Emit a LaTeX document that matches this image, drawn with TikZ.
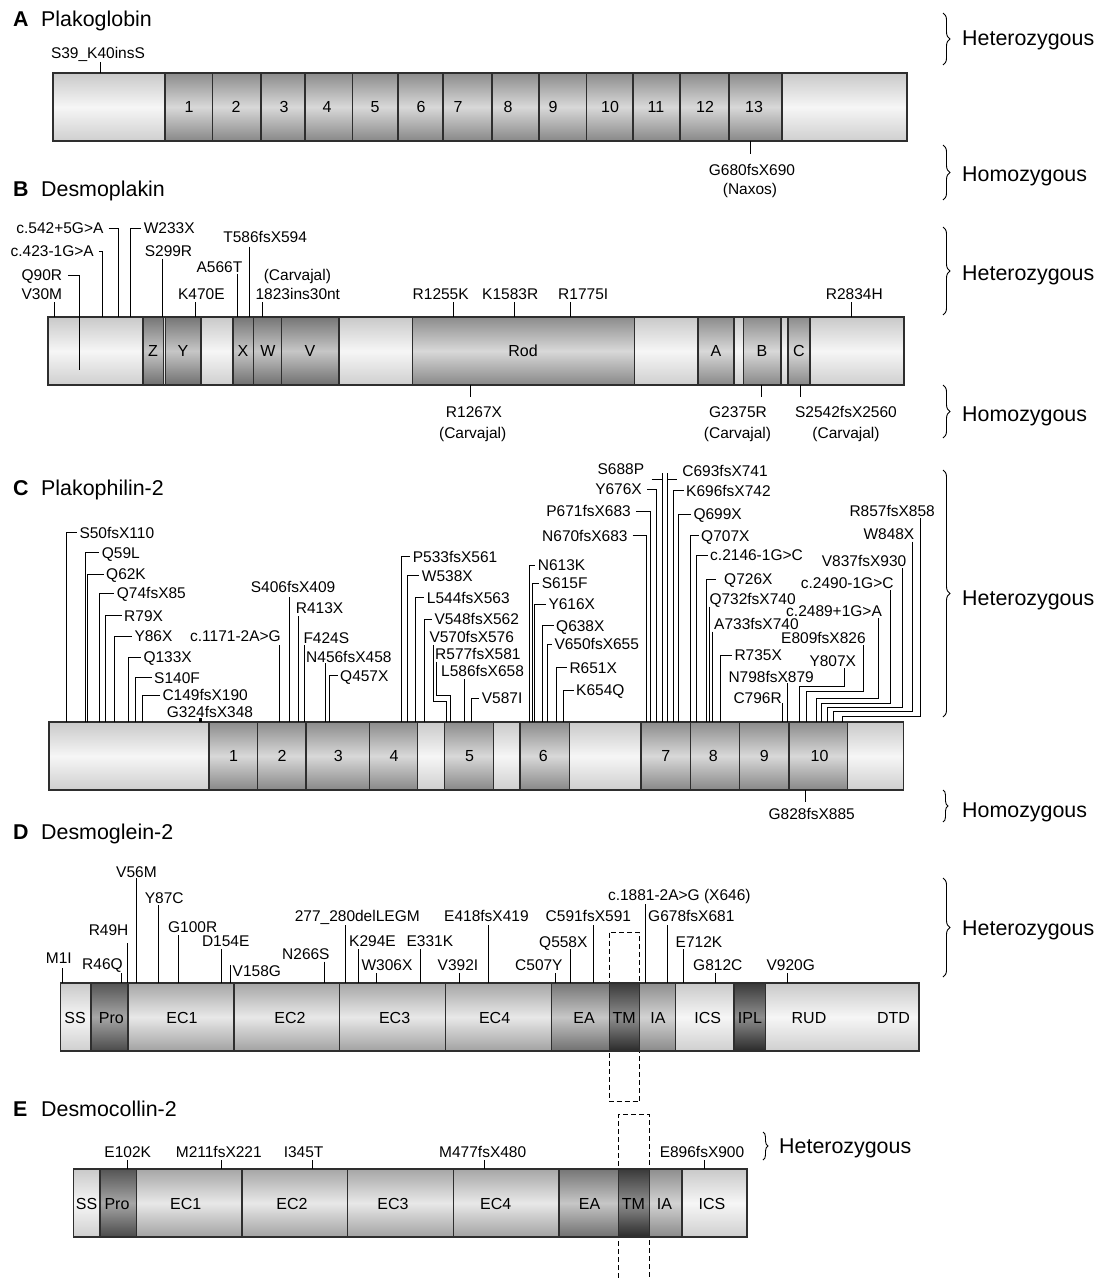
\documentclass[tikz,border=0pt]{standalone}
\usepackage{fontspec}
\setmainfont{Liberation Sans}
\usetikzlibrary{decorations.pathreplacing}
\definecolor{barc}{HTML}{2E2E2E}
\definecolor{Lt}{HTML}{C9C9C9}\definecolor{Lm}{HTML}{F6F6F6}\definecolor{Lb}{HTML}{CFCFCF}
\definecolor{Mt}{HTML}{8C8C8C}\definecolor{Mm}{HTML}{D8D8D8}\definecolor{Mb}{HTML}{888888}
\definecolor{Et}{HTML}{A6A6A6}\definecolor{Em}{HTML}{E8E8E8}\definecolor{Eb}{HTML}{A2A2A2}
\definecolor{At}{HTML}{767676}\definecolor{Am}{HTML}{C6C6C6}\definecolor{Ab}{HTML}{707070}
\definecolor{It}{HTML}{8E8E8E}\definecolor{Im}{HTML}{D2D2D2}\definecolor{Ib}{HTML}{8A8A8A}
\definecolor{Dt}{HTML}{555555}\definecolor{Dm}{HTML}{A6A6A6}\definecolor{Db}{HTML}{4A4A4A}
\definecolor{Tt}{HTML}{3A3A3A}\definecolor{Tm}{HTML}{8E8E8E}\definecolor{Tb}{HTML}{2A2A2A}
\tikzset{
 sL/.style={top color=Lt,bottom color=Lb,middle color=Lm},
 sM/.style={top color=Mt,bottom color=Mb,middle color=Mm},
 sE/.style={top color=Et,bottom color=Eb,middle color=Em},
 sA/.style={top color=At,bottom color=Ab,middle color=Am},
 sI/.style={top color=It,bottom color=Ib,middle color=Im},
 sD/.style={top color=Dt,bottom color=Db,middle color=Dm},
 sT/.style={top color=Tt,bottom color=Tb,middle color=Tm},
 barseg/.style={draw=barc,line width=1.1pt},
 lab/.style={font=\fontsize{15.5}{17}\selectfont,inner sep=0pt,text height=11.2pt,text depth=0pt},
 dlab/.style={font=\fontsize{16}{18}\selectfont,inner sep=0pt,text height=11.5pt,text depth=0pt},
 ttl/.style={font=\fontsize{21.4}{24}\selectfont,inner sep=0pt,anchor=west,text height=15.4pt,text depth=0pt},
 conn/.style={line width=1pt,black},
 brc/.style={decorate,decoration={brace,amplitude=#1},line width=0.9pt},
 brc/.default=7pt,
 tmbox/.style={line width=1pt,dash pattern=on 5pt off 3pt}
}
% L: vertical from bar top up to y, then horizontal to text start
\newcommand\mutL[5]{\node[lab,anchor=west] (#1) at (#4,#3) {#5};
 \draw[conn] (#2,\btop) |- ([xshift=-2.5pt]#1.west);}
% T: text at anchor, plain vertical tick
\newcommand\mutT[7]{\node[lab,anchor=#2] (#1) at (#3,#4) {#7};
 \draw[conn] (#5,#6) -- (#5,\btop);}
% R: text then horizontal right to vertical
\newcommand\mutR[5]{\node[lab,anchor=east] (#1) at (#2,#3) {#5};
 \draw[conn] ([xshift=5pt]#1.east) -| (#4,\btop);}
% S: stepped connector
\newcommand\mutS[8]{\node[lab,anchor=west] (#1) at (#2,#3) {#8};
 \draw[conn] (#4,#5) |- (#7,#6) -- (#7,\btop);}
% centered label with tick
\newcommand\mutC[5]{\node[lab] (#1) at (#2,#3) {#5};
 \draw[conn] (#4,\btop-9) -- (#4,\btop);}
\newcommand\drawbars[1]{\foreach \a/\b/\s in {#1}{\path[barseg,\s] (\a,\btop) rectangle (\b,\bbot);}}
\begin{document}
\begin{tikzpicture}[x=1pt,y=-1pt]
\useasboundingbox (0,0) rectangle (1114,1278);
\fill[white] (0,0) rectangle (1114,1278);

% ================= A =================
\node[ttl] (tA) at (13,19) {\bfseries A};
\node[ttl] (nA) at (41,19) {Plakoglobin};
\def\btop{73}\def\bbot{141}
\drawbars{53/165/sL,165/212.5/sM,212.5/261/sM,261/305/sM,305/352.5/sM,352.5/398/sM,398/443/sM,443/492/sM,492/539/sM,539/586.5/sM,586.5/633/sM,633/680/sM,680/729/sM,729/782/sM,782/907/sL}
\foreach \x/\t [count=\i] in {189/1,236/2,284/3,327/4,375/5,421/6,458/7,508/8,553/9,610/10,656/11,705/12,754/13}
 \node[dlab] (dA\i) at (\x,107) {\t};
\node[lab] (a1) at (98,53) {S39\_K40insS};
\draw[conn] (100,62) -- (100,73);
\draw[conn] (750,141) -- (750,154);
\node[lab] (a2) at (752,170) {G680fsX690};
\node[lab] (a3) at (750,189) {(Naxos)};
\draw[brc] (943,13) -- (943,65);
\node[ttl] (hA) at (962,38) {Heterozygous};
\draw[brc] (943,145) -- (943,200);
\node[ttl] (oA) at (962,174) {Homozygous};

% ================= B =================
\node[ttl] (tB) at (13,189) {\bfseries B};
\node[ttl] (nB) at (41,189) {Desmoplakin};
\def\btop{317}\def\bbot{385}
\drawbars{48/143/sL,143/163.6/sA,163.6/165.4/sL,165.4/201/sA,201/233/sL,233/253.6/sA,253.6/281.4/sA,281.4/339/sA,339/412.5/sL,412.5/634.5/sM,634.5/698/sL,698/734/sM,734/743.7/sL,743.7/781/sM,781/788/sL,788/810/sM,810/904/sL}
\foreach \x/\t [count=\i] in {153/Z,183/Y,243/X,268/W,310/V,523/Rod,716/A,762/B,799/C}
 \node[dlab] (dB\i) at (\x,351) {\t};
\mutR{b1}{103.6}{228.3}{118}{c.542+5G>A}
\mutR{b2}{94}{251}{102.5}{c.423-1G>A}
\node[lab,anchor=west] (b3) at (21.4,275) {Q90R};
\draw[conn] ([xshift=6pt]b3.east) -| (79.3,370);
\mutT{b4}{west}{21.4}{294}{54.3}{302}{V30M}
\mutL{b5}{130.4}{228.3}{143.6}{W233X}
\mutT{b6}{west}{144.6}{251}{162.5}{258.5}{S299R}
\mutT{b7}{west}{196.4}{266.7}{237.5}{273.5}{A566T}
\mutT{b8}{west}{177.9}{294}{195.7}{302}{K470E}
\mutT{b9}{west}{223.2}{236.7}{249.3}{246.5}{T586fsX594}
\node[lab,anchor=west] (b10) at (263.6,275) {(Carvajal)};
\mutT{b11}{west}{255.4}{294}{262.5}{302}{1823ins30nt}
\mutT{b12}{west}{412.5}{294}{453.6}{302}{R1255K}
\mutT{b13}{west}{482}{294}{514.3}{302}{K1583R}
\mutT{b14}{west}{558}{294}{570.4}{302}{R1775I}
\mutT{b15}{west}{825.7}{294}{851.4}{302}{R2834H}
\draw[conn] (470.7,385) -- (470.7,397);
\node[lab] (b16) at (474,412) {R1267X};
\node[lab] (b17) at (472.7,433) {(Carvajal)};
\draw[conn] (761.2,385) -- (761.2,397);
\node[lab] (b18) at (738,412) {G2375R};
\node[lab] (b19) at (737.5,433) {(Carvajal)};
\draw[conn] (800,385) -- (800,397);
\node[lab] (b20) at (846,412) {S2542fsX2560};
\node[lab] (b21) at (846,433) {(Carvajal)};
\draw[brc] (943,227) -- (943,315);
\node[ttl] (hB) at (962,273) {Heterozygous};
\draw[brc] (943,385) -- (943,438);
\node[ttl] (oB) at (962,414) {Homozygous};

% ================= C =================
\node[ttl] (tC) at (13,488) {\bfseries C};
\node[ttl] (nC) at (41,488) {Plakophilin-2};
\def\btop{722}\def\bbot{790}
\drawbars{49/209/sL,209/257.3/sM,257.3/306/sM,306/369.3/sM,369.3/417.5/sM,417.5/444.5/sL,444.5/493.3/sM,493.3/520/sL,520/569.3/sM,569.3/641/sL,641/690.7/sM,690.7/739.3/sM,739.3/789/sM,789/847.7/sM,847.7/903.3/sL}
\foreach \x/\t [count=\i] in {233.5/1,282/2,338.3/3,394/4,469.5/5,543.3/6,665.7/7,713.3/8,764.3/9,819.5/10}
 \node[dlab] (dC\i) at (\x,756) {\t};
\mutL{c1}{66.7}{532.7}{79.3}{S50fsX110}
\mutL{c2}{85}{552.7}{101.7}{Q59L}
\mutL{c3}{87.7}{574.3}{106}{Q62K}
\mutL{c4}{99}{593.3}{116.7}{Q74fsX85}
\mutL{c5}{105.3}{615.7}{124}{R79X}
\mutL{c6}{114}{636}{134.3}{Y86X}
\mutL{c7}{128.3}{657.3}{143.3}{Q133X}
\mutL{c8}{135}{677.7}{154}{S140F}
\mutL{c9}{142.7}{695}{162.3}{C149fsX190}
\node[lab,anchor=west] (c10) at (166.7,711.7) {G324fsX348};
\fill (198.5,717.5) rectangle (201.5,722);
\mutT{c11}{east}{281}{636}{279}{645}{c.1171-2A>G}
\mutT{c12}{west}{250.7}{586.7}{289.3}{597}{S406fsX409}
\mutT{c13}{west}{295.7}{608.3}{298.3}{616}{R413X}
\mutT{c14}{west}{303.3}{637.7}{304}{645}{F424S}
\mutT{c15}{west}{306}{656.7}{325.7}{663}{N456fsX458}
\mutL{c16}{329.3}{675.7}{340}{Q457X}
\mutL{c17}{401.7}{556.7}{412.7}{P533fsX561}
\mutL{c18}{407.3}{575.7}{421.7}{W538X}
\mutL{c19}{415}{597.7}{426.7}{L544fsX563}
\mutL{c20}{424.3}{619.3}{434.3}{V548fsX562}
\mutS{c21}{429.3}{636.7}{433.3}{645}{701.7}{446}{V570fsX576}
\mutS{c22}{435}{654}{436.3}{661.7}{695}{450}{R577fsX581}
\mutT{c23}{west}{441}{671}{464.3}{679}{L586fsX658}
\mutL{c24}{471.7}{698.3}{481.7}{V587I}
\mutL{c25}{529.5}{565}{537.7}{N613K}
\mutL{c26}{532}{583.3}{541.7}{S615F}
\mutL{c27}{534.5}{604}{548.3}{Y616X}
\mutL{c28}{542.7}{625.7}{556}{Q638X}
\mutL{c29}{547.3}{644.3}{554.3}{V650fsX655}
\mutL{c30}{556.7}{667.7}{569.3}{R651X}
\mutL{c31}{563.3}{690}{576}{K654Q}
\mutR{c32}{627.7}{535.7}{646.7}{N670fsX683}
\mutR{c33}{631}{511}{650}{P671fsX683}
\mutR{c34}{642}{489.3}{656.4}{Y676X}
\node[lab,anchor=east] (c35) at (644.3,469) {S688P};
\draw[conn] (662.3,473) -- (662.3,722);
\draw[conn] (651.7,479) -- (662.3,479);
\node[lab,anchor=west] (c36) at (682.2,471) {C693fsX741};
\draw[conn] (667.7,473) -- (667.7,722);
\draw[conn] (667.7,479) -- (676.7,479);
\mutL{c37}{673.5}{490.5}{686}{K696fsX742}
\mutL{c38}{678.3}{514}{693.3}{Q699X}
\mutL{c39}{690}{535.7}{701}{Q707X}
\mutL{c40}{696}{555}{710}{c.2146-1G>C}
\node[lab,anchor=west] (c41) at (724,579) {Q726X};
\draw[conn] (706,722) |- (716,579);
\mutT{c42}{west}{709.3}{599}{709.3}{606.5}{Q732fsX740}
\mutT{c43}{west}{714}{624.3}{712.3}{631.5}{A733fsX740}
\mutL{c44}{720.7}{655}{734.3}{R735X}
\mutT{c45}{west}{728.3}{676.7}{787.7}{683}{N798fsX879}
\mutT{c46}{west}{733.3}{697.7}{782.7}{703}{C796R}
\mutS{c47}{809.3}{660.7}{844.3}{668}{686.7}{799.3}{Y807X}
\mutS{c48}{781}{638.3}{863.3}{645}{691.7}{806}{E809fsX826}
\mutS{c49}{786}{611}{878.3}{618}{698.3}{816}{c.2489+1G>A}
\mutS{c50}{800.7}{583.3}{890.7}{590}{703.3}{821.7}{c.2490-1G>C}
\mutS{c51}{821.7}{561}{902.3}{568}{707.7}{827}{V837fsX930}
\mutS{c52}{863.3}{534}{912.7}{541.7}{711.7}{833.3}{W848X}
\mutS{c53}{849.3}{510.7}{920.7}{518}{716.7}{842.7}{R857fsX858}
\draw[conn] (805.7,790) -- (805.7,801.7);
\node[lab] (c54) at (811.7,814.3) {G828fsX885};
\draw[brc] (943,470) -- (943,717);
\node[ttl] (hC) at (962,598) {Heterozygous};
\draw[brc=5pt] (943,790) -- (943,822);
\node[ttl] (oC) at (962,810) {Homozygous};

% ================= D =================
\node[ttl] (tD) at (13,832) {\bfseries D};
\node[ttl] (nD) at (41,832) {Desmoglein-2};
\def\btop{983}\def\bbot{1051}
\draw[tmbox] (609.6,932.7) rectangle (639.6,1101.7);
\drawbars{60.7/91/sL,91/128/sD,128/234/sE,234/339.3/sE,339.3/445.4/sE,445.4/551.7/sE,551.7/609.6/sA,609.6/639.6/sT,639.6/675.5/sI,675.5/734/sL,734/765.3/sT,765.3/919/sL}
\foreach \x/\t [count=\i] in {75/SS,111.4/Pro,182/EC1,290/EC2,394.6/EC3,494.6/EC4,584/EA,624.2/TM,658/IA,707.8/ICS,750/IPL,809/RUD,893.5/DTD}
 \node[dlab] (dD\i) at (\x,1018) {\t};
\mutT{d1}{west}{45.7}{958.3}{62.5}{968}{M1I}
\mutT{d2}{west}{82}{964}{121.4}{973.3}{R46Q}
\mutT{d3}{west}{88.6}{930}{127.5}{943}{R49H}
\mutT{d4}{west}{116}{871.7}{136.8}{878}{V56M}
\mutT{d5}{west}{144.6}{898.3}{158.2}{905}{Y87C}
\mutT{d6}{west}{167.9}{927.3}{178.6}{935}{G100R}
\mutT{d7}{west}{201.8}{941}{221.4}{949}{D154E}
\mutT{d8}{west}{232.5}{971}{230.4}{965}{V158G}
\mutT{d9}{west}{282}{954}{324.3}{961.7}{N266S}
\mutT{d10}{west}{294.6}{915.7}{345.4}{925}{277\_280delLEGM}
\mutT{d11}{west}{349}{941}{358.2}{949}{K294E}
\mutT{d12}{west}{361.4}{965}{376}{973.3}{W306X}
\mutT{d13}{west}{406.4}{941}{420.4}{949}{E331K}
\mutT{d14}{west}{437.5}{965}{459}{973.3}{V392I}
\mutT{d15}{west}{444}{915.7}{488.6}{925}{E418fsX419}
\mutT{d16}{west}{515}{965}{555.4}{973.3}{C507Y}
\mutT{d17}{west}{539}{941.7}{570.4}{949.3}{Q558X}
\mutT{d18}{west}{545.5}{916}{593.8}{925}{C591fsX591}
\mutT{d19}{west}{607.8}{895}{645.5}{904}{c.1881-2A>G (X646)}
\mutT{d20}{west}{648}{916}{667}{925}{G678fsX681}
\mutT{d21}{west}{675.5}{941.7}{683.6}{949.3}{E712K}
\mutT{d22}{west}{693}{965}{715.8}{973.3}{G812C}
\mutT{d23}{west}{766.4}{965}{787}{973.3}{V920G}
\draw[brc] (943,878) -- (943,977);
\node[ttl] (hD) at (962,928) {Heterozygous};

% ================= E =================
\node[ttl] (tE) at (13,1109) {\bfseries E};
\node[ttl] (nE) at (41,1109) {Desmocollin-2};
\def\btop{1169}\def\bbot{1237}
\draw[tmbox] (618.8,1278) -- (618.8,1114.3) -- (649.2,1114.3) -- (649.2,1278);
\drawbars{73.2/100/sL,100/136.8/sD,136.8/242/sE,242/347.5/sE,347.5/453.6/sE,453.6/559/sE,559/618.8/sA,618.8/649.2/sT,649.2/682/sI,682/747/sL}
\foreach \x/\t [count=\i] in {86.5/SS,117/Pro,185.7/EC1,292/EC2,393/EC3,495.7/EC4,589.5/EA,633.4/TM,664.5/IA,712/ICS}
 \node[dlab] (dE\i) at (\x,1204) {\t};
\mutC{e1}{127.7}{1151.7}{127.5}{E102K}
\mutC{e2}{218.8}{1151.7}{221.4}{M211fsX221}
\mutC{e3}{303.6}{1151.7}{312.5}{I345T}
\mutC{e4}{482.7}{1151.7}{484}{M477fsX480}
\mutC{e5}{702}{1151.7}{704.8}{E896fsX900}
\draw[brc=5pt] (763,1132) -- (763,1160);
\node[ttl] (hE) at (779,1146) {Heterozygous};
\end{tikzpicture}
\end{document}
